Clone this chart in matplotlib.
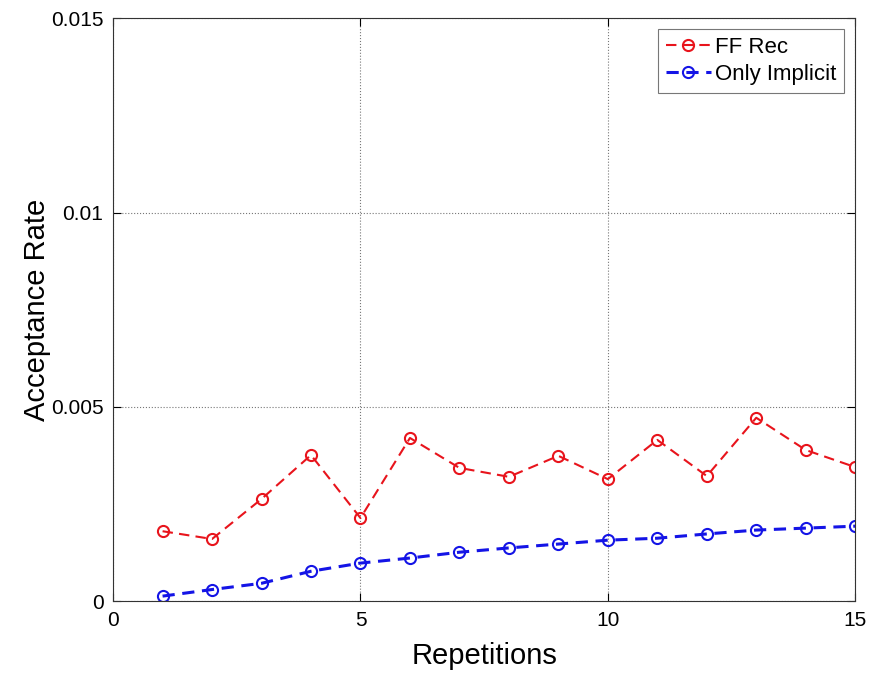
import matplotlib
matplotlib.use('Agg')
import matplotlib.pyplot as plt

plt.rcParams['font.family'] = ['Liberation Sans', 'DejaVu Sans']

# data
repetitions = list(range(1, 16))
ff_rec = [0.0018, 0.0016, 0.00263, 0.00376, 0.00214, 0.0042, 0.00343, 0.0032,
          0.00374, 0.00314, 0.00415, 0.00322, 0.00472, 0.00389, 0.00345]
only_implicit = [0.00013, 0.0003, 0.00046, 0.00077, 0.00098, 0.00111, 0.00126, 0.00137,
                 0.00147, 0.00157, 0.00162, 0.00173, 0.00183, 0.00188, 0.00193]
x_ticks = [0, 5, 10, 15]
y_ticks = [0, 0.005, 0.01, 0.015]
y_ticklabels = ['0', '0.005', '0.01', '0.015']

fig = plt.figure(figsize=(8.7, 6.77), dpi=100)
ax = fig.add_axes([0.13, 0.112, 0.853, 0.861])

ax.plot(repetitions, ff_rec, '--o', color='#e8141c', lw=1.5, ms=8,
        mfc='none', mew=1.5, dashes=(5, 3), label='FF Rec')
ax.plot(repetitions, only_implicit, '--o', color='#1414e6', lw=2.2, ms=8,
        mfc='none', mew=1.5, dashes=(4, 2.5), label='Only Implicit')

ax.set_xlim(0, 15)
ax.set_ylim(0, 0.015)
ax.set_xticks(x_ticks)
ax.set_yticks(y_ticks)
ax.set_yticklabels(y_ticklabels)
ax.tick_params(direction='in', labelsize=15, length=6, top=True, right=True, pad=7)
ax.grid(True, linestyle=':', color='#777777', linewidth=0.8)

ax.set_xlabel('Repetitions', fontsize=21, labelpad=9)
ax.set_ylabel('Acceptance Rate', fontsize=21, labelpad=0)

leg = ax.legend(loc='upper right', fontsize=16, fancybox=False, edgecolor='#555555',
                handlelength=2.0, handletextpad=0.2, borderpad=0.35,
                labelspacing=0.25, borderaxespad=0.5)
leg.get_frame().set_linewidth(0.8)

for s in ax.spines.values():
    s.set_color('#333333')

fig.savefig('out.png', dpi=100)
